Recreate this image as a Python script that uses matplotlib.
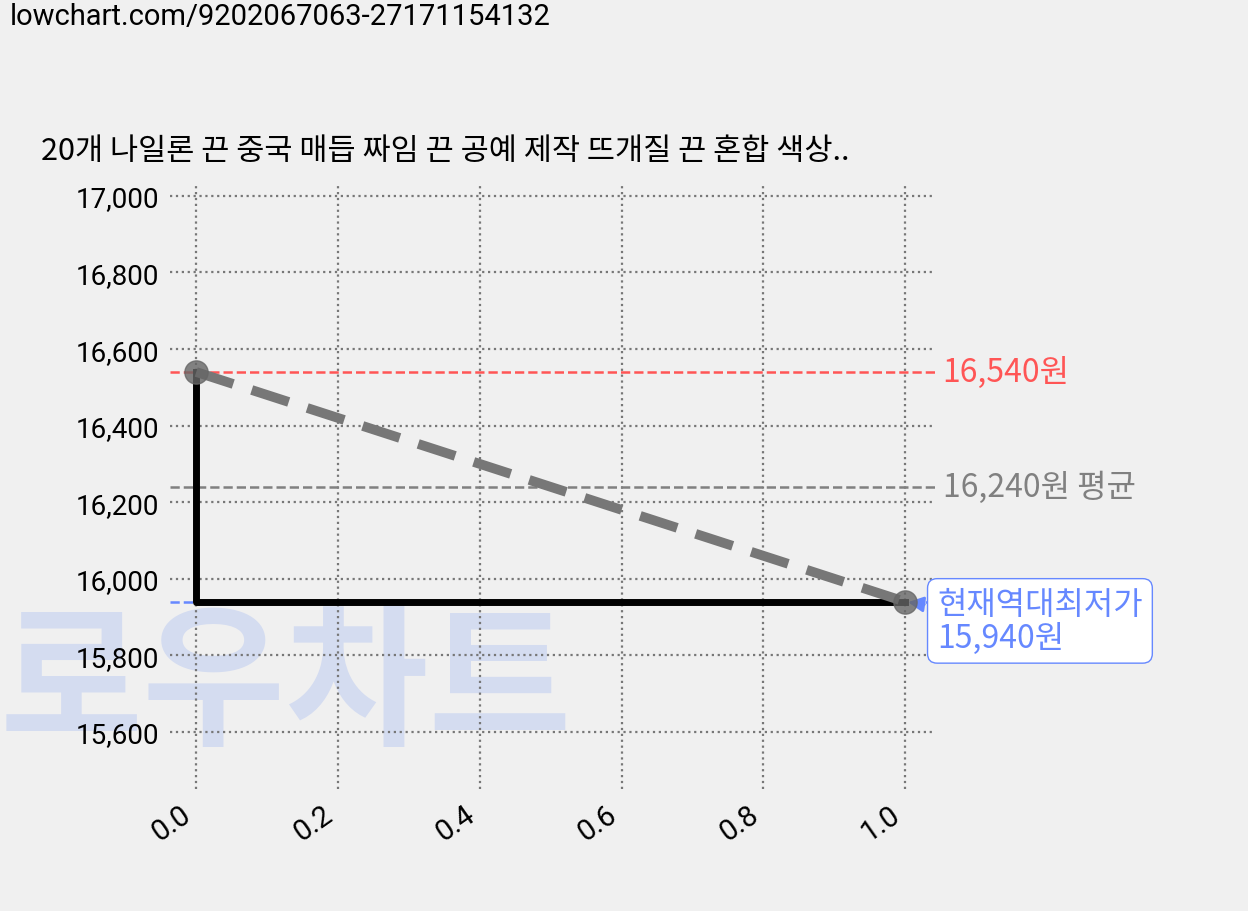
import matplotlib
matplotlib.use("Agg")
import matplotlib.pyplot as plt

plt.rcParams['font.family'] = ['Noto Sans CJK KR', 'DejaVu Sans']

x = [0, 1]
prices = [16540, 15940]
max_price = 16540
avg_price = 16240
min_price = 15940
yticks = [15600, 15800, 16000, 16200, 16400, 16600, 16800, 17000]
xticks = [0.0, 0.2, 0.4, 0.6, 0.8, 1.0]

fig = plt.figure(figsize=(12.48, 9.12), dpi=100, facecolor='#f0f0f0')
ax = fig.add_axes([170/1248, 1-790/912, 765/1248, 605/912])
ax.set_facecolor('none')
for s in ax.spines.values():
    s.set_visible(False)

fig.text(0.008, 1-17/912, 'lowchart.com/9202067063-27171154132', fontsize=21, va='center',
         family=['Roboto', 'DejaVu Sans'])
fig.text(0.033, 1-152/912, '20개 나일론 끈 중국 매듭 짜임 끈 공예 제작 뜨개질 끈 혼합 색상..',
         fontsize=22, va='center')
wm = fig.text(0.0, 1-688/912, '로우차트', fontsize=112, fontweight='black', color='#d4dcf0',
              va='center', ha='left', zorder=-5)

ax.grid(True, linestyle=':', color='#777777', linewidth=1.6)
ax.set_axisbelow(True)
ax.step(x, prices, where='pre', color='black', linewidth=5, zorder=3)
ax.plot(x, prices, color='#777777', linestyle='--', linewidth=7, dashes=(4, 2), zorder=4)
ax.scatter(x, prices, s=280, color='#666666', alpha=0.8, zorder=5)
ax.axhline(max_price, color='#ff5555', linestyle='--', linewidth=1.8)
ax.axhline(avg_price, color='#808080', linestyle='--', linewidth=1.8)
ax.axhline(min_price, color='#6688ff', linestyle='--', linewidth=1.8)

ax.set_xlim(-0.037, 1.042)
ax.set_ylim(15451, 17031)
ax.set_yticks(yticks)
ax.set_yticklabels([f'{v:,}' for v in yticks], fontsize=20, family=['Roboto', 'DejaVu Sans'])
ax.set_xticks(xticks)
ax.set_xticklabels([f'{v:.1f}' for v in xticks], fontsize=21, rotation=35, ha='right',
                   family=['Roboto', 'DejaVu Sans'])
ax.tick_params(length=0, pad=8)

ax.text(1.01, max_price, f'{max_price:,}원', color='#ff5555', fontsize=23, va='center',
        transform=ax.get_yaxis_transform())
ax.text(1.01, avg_price, f'{avg_price:,}원 평균', color='#808080', fontsize=23, va='center',
        transform=ax.get_yaxis_transform())
ax.annotate(f'현재역대최저가\n{min_price:,}원', xy=(1, min_price), xytext=(1.045, min_price - 50),
            fontsize=23, color='#6688ff', va='center', ha='left', linespacing=1.05,
            bbox=dict(boxstyle='round,pad=0.3', fc='white', ec='#6688ff'),
            arrowprops=dict(arrowstyle='-|>', color='#6688ff', lw=2), annotation_clip=False)

fig.savefig('out.png', dpi=100, facecolor=fig.get_facecolor())
